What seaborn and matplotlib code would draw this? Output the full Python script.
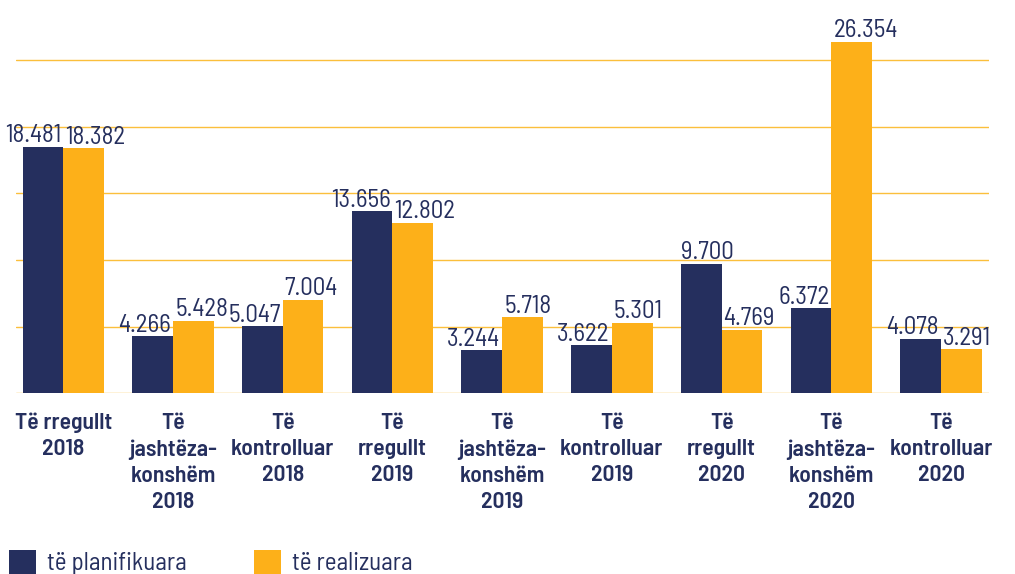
import matplotlib
matplotlib.use("Agg")
import matplotlib.pyplot as plt
import seaborn as sns
import pandas as pd

# ---- data ----
categories = [
    "Të rregullt\n2018",
    "Të\njashtëza-\nkonshëm\n2018",
    "Të\nkontrolluar\n2018",
    "Të\nrregullt\n2019",
    "Të\njashtëza-\nkonshëm\n2019",
    "Të\nkontrolluar\n2019",
    "Të\nrregullt\n2020",
    "Të\njashtëza-\nkonshëm\n2020",
    "Të\nkontrolluar\n2020",
]
series_names = ["të planifikuara", "të realizuara"]
planned = [18481, 4266, 5047, 13656, 3244, 3622, 9700, 6372, 4078]
realized = [18382, 5428, 7004, 12802, 5718, 5301, 4769, 26354, 3291]

# label anchoring for the planned series (realized labels always start at their bar's left edge)
planned_label_ha = ["right", "right", "right", "right", "right", "right", "left", "right", "right"]

NAVY = "#252F5E"
ORANGE = "#FDB019"
GRID = "#FBBF3C"
LABEL_FONT = ["Barlow Semi Condensed", "DejaVu Sans"]
VALUE_FONT = ["Barlow Semi Condensed", "DejaVu Sans"]

sns.set_theme(style="white")
plt.rcParams["font.family"] = VALUE_FONT

df = pd.DataFrame({
    "kategoria": categories * 2,
    "lloji": [series_names[0]] * len(categories) + [series_names[1]] * len(categories),
    "numri": planned + realized,
})

fig = plt.figure(figsize=(10.15, 5.74), dpi=100)
ax = fig.add_axes([16 / 1015, 1 - 393.3 / 574, (989 - 16) / 1015, 393.3 / 574])

sns.barplot(data=df, x="kategoria", y="numri", hue="lloji",
            palette=[NAVY, ORANGE], saturation=1, width=0.742,
            linewidth=0, ax=ax, legend=True)

ax.set_xlim(-0.431, 8.4375)
ax.set_ylim(0, 29500)
ax.set_yticks(range(0, 25001, 5000))
ax.yaxis.grid(True, color=GRID, linewidth=1.0)
ax.xaxis.grid(False)
ax.set_axisbelow(True)
ax.tick_params(axis="y", length=0, labelleft=False)
ax.tick_params(axis="x", length=0, pad=14)
for s in ax.spines.values():
    s.set_visible(False)
ax.set_xlabel("")
ax.set_ylabel("")
for lbl in ax.get_xticklabels():
    lbl.set_family(LABEL_FONT)
    lbl.set_fontsize(17)
    lbl.set_fontweight("semibold")
    lbl.set_color(NAVY)
    lbl.set_linespacing(1.39)
    lbl.set_verticalalignment("top")


def fmt(v):
    return f"{v:,}".replace(",", ".")


# value labels above each bar
planned_bars, realized_bars = ax.containers[0], ax.containers[1]
for rect, v, ha in zip(planned_bars, planned, planned_label_ha):
    if ha == "right":
        x, dx = rect.get_x() + rect.get_width(), -2
    else:
        x, dx = rect.get_x(), 0
    ax.annotate(fmt(v), (x, v), xytext=(dx, 4.5), textcoords="offset pixels",
                ha=ha, va="baseline", fontsize=18, color=NAVY)
for rect, v in zip(realized_bars, realized):
    ax.annotate(fmt(v), (rect.get_x(), v), xytext=(2, 4.5),
                textcoords="offset pixels", ha="left", va="baseline",
                fontsize=18, color=NAVY)

sns.move_legend(ax, "upper left", bbox_to_anchor=(9 / 1015, 1 - 550 / 574),
                bbox_transform=fig.transFigure, ncol=2, frameon=False,
                title=None, fontsize=18, handlelength=1.08, handleheight=1.08,
                handletextpad=0.44, columnspacing=2.7, borderpad=0,
                borderaxespad=0)
for t in ax.get_legend().get_texts():
    t.set_color(NAVY)

fig.savefig("out.png", dpi=100)
